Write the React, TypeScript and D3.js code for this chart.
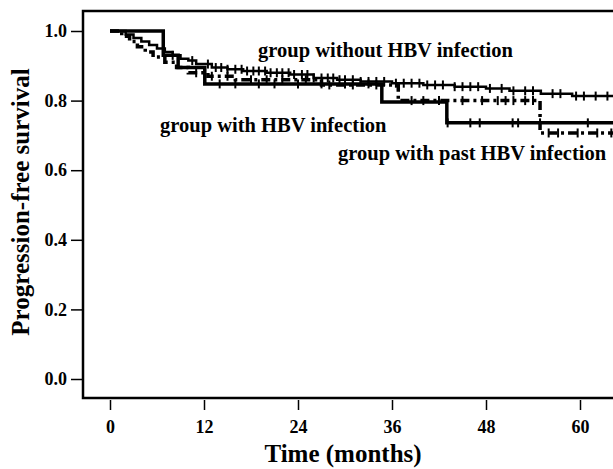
import React, { useEffect, useRef } from 'react';
import * as d3 from 'd3';

// Kaplan-Meier steps (time in months, survival proportion)
const noHbvTime = [0, 2, 3, 4, 5, 6, 7, 8, 9, 10, 11, 13, 15, 17, 20, 23, 26, 29, 32, 36, 40, 44, 48, 51, 55, 59];
const noHbvSurv = [1.0, 0.99, 0.98, 0.97, 0.96, 0.95, 0.94, 0.93, 0.92, 0.915, 0.905, 0.895, 0.89, 0.885, 0.88, 0.875, 0.865, 0.86, 0.855, 0.85, 0.845, 0.84, 0.835, 0.828, 0.82, 0.813];
const noHbvCensor = [8, 10.5, 12.5, 13.5, 14.2, 15, 16, 16.8, 17.5, 18.3, 19, 19.8, 20.5, 21.3, 22, 22.8, 23.5, 24.5, 25.2, 26, 27, 27.8, 28.5, 29.3, 30, 31, 32, 33, 34, 35, 36.5, 37.5, 38.5, 39.5, 40.5, 41.5, 42.5, 44, 45, 46, 47, 48.5, 50, 51.5, 53, 54, 56.5, 57.5, 59.5, 60.5, 62, 63.5];

const hbvTime = [0, 6.8, 8.7, 12.1, 34.7, 43];
const hbvSurv = [1.0, 0.93, 0.895, 0.848, 0.796, 0.736];
const hbvCensor = [14, 16, 19, 21, 24, 27, 30, 33, 43.1, 46, 47.2, 51.4, 52.1, 54.9, 61];

const pastTime = [0, 1.5, 2.5, 3.5, 4.5, 5.5, 7, 8.5, 10, 12.5, 16, 27, 36.8, 54.9];
const pastSurv = [1.0, 0.985, 0.97, 0.955, 0.94, 0.925, 0.91, 0.895, 0.88, 0.87, 0.86, 0.845, 0.8, 0.707];
const pastCensor = [11, 13, 15, 18, 20, 22, 25, 28, 31, 34, 38.5, 40, 42, 45, 47.5, 49.5, 50.5, 51.5, 53, 54, 56, 57.2, 59.7, 62.2, 64];

const xTicks = [0, 12, 24, 36, 48, 60];
const yTicks = [0, 0.2, 0.4, 0.6, 0.8, 1.0];

const groupLabels = ['group without HBV infection', 'group with HBV infection', 'group with past HBV infection'];

const font = '"Liberation Serif", "Times New Roman", serif';

const App = () => {
  const svgRef = useRef<SVGSVGElement>(null);

  useEffect(() => {
    const svg = d3.select(svgRef.current);
    svg.selectAll('*').remove();

    const x = d3.scaleLinear().domain([0, 60]).range([110, 580]);
    const y = d3.scaleLinear().domain([0, 1]).range([379, 31]);
    const left = 83, top = 11, bottom = 398, right = 625;

    svg.append('clipPath').attr('id', 'plot')
      .append('rect').attr('x', left).attr('y', top).attr('width', right - left).attr('height', bottom - top);

    // frame (right side runs off the picture)
    svg.append('path')
      .attr('d', `M${right},${top}H${left}V${bottom}H${right}`)
      .attr('fill', 'none').attr('stroke', '#000').attr('stroke-width', 2.5);

    // y axis
    const yAxis = svg.append('g').attr('transform', `translate(${left},0)`)
      .call(d3.axisLeft(y).tickValues(yTicks).tickFormat(d3.format('.1f')).tickSize(12).tickPadding(4));
    yAxis.select('.domain').remove();
    yAxis.selectAll('line').attr('stroke-width', 1.5);
    yAxis.selectAll('text').attr('font-family', font).attr('font-weight', 'bold').attr('font-size', 18).attr('fill', '#000');

    // x axis
    const xAxis = svg.append('g').attr('transform', `translate(0,${bottom + 2})`)
      .call(d3.axisBottom(x).tickValues(xTicks).tickSize(10).tickPadding(10));
    xAxis.select('.domain').remove();
    xAxis.selectAll('line').attr('stroke-width', 1.5);
    xAxis.selectAll('text').attr('font-family', font).attr('font-weight', 'bold').attr('font-size', 18).attr('fill', '#000');

    svg.append('text')
      .attr('x', 343).attr('y', 462).attr('text-anchor', 'middle')
      .attr('font-family', font).attr('font-weight', 'bold').attr('font-size', 25)
      .text('Time (months)');
    svg.append('text')
      .attr('transform', 'translate(29,202) rotate(-90)').attr('text-anchor', 'middle')
      .attr('font-family', font).attr('font-weight', 'bold').attr('font-size', 25)
      .text('Progression-free survival');

    const plot = svg.append('g').attr('clip-path', 'url(#plot)');
    const line = d3.line<[number, number]>().x(d => x(d[0])).y(d => y(d[1])).curve(d3.curveStepAfter);

    const groups = [
      { time: noHbvTime, surv: noHbvSurv, censor: noHbvCensor, width: 2.5, dash: null },
      { time: hbvTime, surv: hbvSurv, censor: hbvCensor, width: 3.5, dash: null },
      { time: pastTime, surv: pastSurv, censor: pastCensor, width: 3.5, dash: '9,4,3,4' },
    ];

    groups.forEach(g => {
      const pts: [number, number][] = g.time.map((t, i) => [t, g.surv[i]]);
      pts.push([70, g.surv[g.surv.length - 1]]);
      plot.append('path')
        .attr('d', line(pts))
        .attr('fill', 'none').attr('stroke', '#000')
        .attr('stroke-width', g.width)
        .attr('stroke-dasharray', g.dash);

      const survAt = (t: number) => g.surv[d3.bisectRight(g.time, t) - 1];
      plot.selectAll(null).data(g.censor).enter().append('line')
        .attr('x1', d => x(d)).attr('x2', d => x(d))
        .attr('y1', d => y(survAt(d)) - 4.5).attr('y2', d => y(survAt(d)) + 4.5)
        .attr('stroke', '#000').attr('stroke-width', 2);
    });

    // curve labels
    const labelPos = [[258, 57], [160, 132], [338, 160]];
    svg.selectAll('.glabel').data(groupLabels).enter().append('text')
      .attr('class', 'glabel')
      .attr('x', (d, i) => labelPos[i][0]).attr('y', (d, i) => labelPos[i][1])
      .attr('font-family', font).attr('font-weight', 'bold').attr('font-size', 20.5)
      .text(d => d);
  }, []);

  return <svg ref={svgRef} width={613} height={469} style={{ position: 'absolute', left: 0, top: 0, background: '#fff' }} />;
};

export default App;
